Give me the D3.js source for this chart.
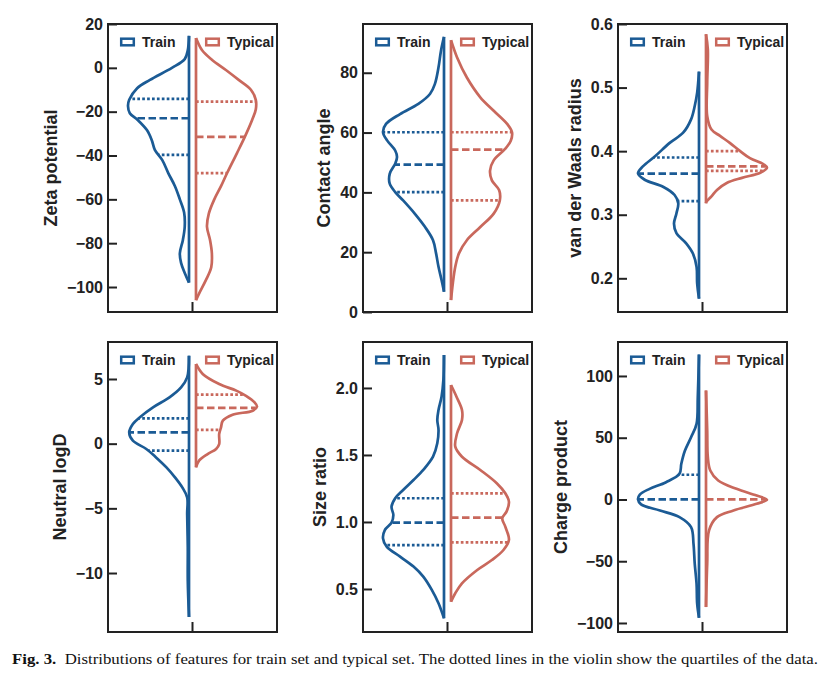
<!DOCTYPE html>
<html>
<head>
<meta charset="utf-8">
<script src="https://cdn.jsdelivr.net/npm/d3@7/dist/d3.min.js"></script>
<style>
  body { margin: 0; background: #fff; }
  svg text { font-family: "Liberation Sans", Arial, sans-serif; }
</style>
</head>
<body>
<script>
// ---- data: value along the axis + relative density (1 = widest) ----
const zetaTicks = [20, 0, -20, -40, -60, -80, -100];
const zetaTrainY = [14.6, 8, 4, 0, -5.5, -9.3, -14.6, -17.4, -20.7, -23.8, -28.4, -33, -37.4, -42, -48, -54, -60, -66, -72.5, -78.5, -84.6, -89, -93.6, -98];
const zetaTrainDens = [0, 0.02, 0.07, 0.28, 0.64, 0.85, 0.98, 1.0, 0.97, 0.84, 0.69, 0.61, 0.56, 0.44, 0.34, 0.23, 0.15, 0.08, 0.07, 0.10, 0.15, 0.13, 0.07, 0];
const zetaTrainQ = [-39.7, -23, -14.2];
const zetaTypicalY = [13.6, 8, 3.7, -1, -5.5, -10, -14.6, -19, -23.8, -31.5, -39, -48, -54, -60, -66.5, -72.5, -78.5, -84.6, -91, -97, -103, -106];
const zetaTypicalDens = [0, 0.10, 0.26, 0.49, 0.70, 0.90, 0.98, 0.98, 0.92, 0.80, 0.67, 0.51, 0.41, 0.30, 0.21, 0.18, 0.23, 0.26, 0.25, 0.16, 0.05, 0];
const zetaTypicalQ = [-48, -31.5, -15.4];

const contactTicks = [0, 20, 40, 60, 80];
const contactTrainY = [92, 87.3, 81.8, 76.2, 72.9, 69.6, 66.2, 62.9, 60.1, 57.3, 54, 51.8, 49.6, 46.2, 42.9, 40.1, 37.3, 32.9, 28.4, 24, 19.6, 15.1, 10.7, 6.8];
const contactTrainDens = [0, 0.05, 0.09, 0.15, 0.23, 0.42, 0.72, 0.95, 1.0, 0.93, 0.80, 0.77, 0.80, 0.89, 0.89, 0.80, 0.67, 0.48, 0.31, 0.18, 0.13, 0.09, 0.04, 0];
const contactTrainQ = [40.1, 49.3, 60.1];
const contactTypicalY = [90.9, 85.1, 78.4, 71.8, 67.3, 62.9, 60.1, 57.3, 54.6, 50.7, 47.3, 44, 40.7, 37.3, 32.9, 28.4, 24, 19.6, 15.1, 9.6, 4];
const contactTypicalDens = [0, 0.10, 0.26, 0.48, 0.70, 0.92, 1.0, 0.98, 0.89, 0.70, 0.64, 0.67, 0.79, 0.80, 0.70, 0.48, 0.26, 0.13, 0.07, 0.03, 0];
const contactTypicalQ = [37.3, 54.3, 60.1];

const vdwTicks = [0.2, 0.3, 0.4, 0.5, 0.6];
const vdwTrainY = [0.525, 0.492, 0.471, 0.45, 0.429, 0.413, 0.392, 0.376, 0.365, 0.355, 0.344, 0.331, 0.318, 0.302, 0.286, 0.271, 0.255, 0.239, 0.218, 0.192, 0.168];
const vdwTrainDens = [0, 0.03, 0.07, 0.13, 0.26, 0.48, 0.72, 0.92, 1.0, 0.89, 0.59, 0.40, 0.34, 0.37, 0.41, 0.37, 0.21, 0.10, 0.04, 0.03, 0];
const vdwTrainQ = [0.3215, 0.3646, 0.390];
const vdwTypicalY = [0.584, 0.56, 0.508, 0.455, 0.434, 0.424, 0.413, 0.400, 0.389, 0.379, 0.374, 0.366, 0.358, 0.350, 0.339, 0.329, 0.321, 0.318];
const vdwTypicalDens = [0, 0.03, 0.02, 0.02, 0.09, 0.23, 0.39, 0.56, 0.72, 0.95, 1.0, 0.89, 0.59, 0.34, 0.18, 0.09, 0.01, 0];
const vdwTypicalQ = [0.369, 0.376, 0.400];

const logdTicks = [5, 0, -5, -10];
const logdTrainY = [6.8, 5.12, 4.35, 3.58, 2.81, 2.03, 1.52, 0.87, 0.23, -0.41, -1.06, -1.83, -2.6, -3.38, -4.15, -5.44, -8, -10.6, -13.4];
const logdTrainDens = [0, 0.03, 0.13, 0.32, 0.59, 0.81, 0.92, 0.98, 0.92, 0.70, 0.54, 0.37, 0.23, 0.11, 0.03, 0.03, 0.02, 0.02, 0];
const logdTrainQ = [-0.54, 0.87, 1.96];
const logdTypicalY = [6.16, 5.39, 4.61, 4.1, 3.7, 3.19, 2.86, 2.55, 2.24, 1.78, 1.26, 0.75, -0.03, -0.41, -0.8, -1.31, -1.83];
const logdTypicalDens = [0, 0.11, 0.38, 0.66, 0.82, 0.96, 1.0, 0.93, 0.60, 0.44, 0.41, 0.38, 0.38, 0.33, 0.19, 0.05, 0];
const logdTypicalQ = [1.06, 2.76, 3.79];

const sizeTicks = [0.5, 1.0, 1.5, 2.0];
const sizeTrainY = [2.246, 2.06, 1.935, 1.836, 1.761, 1.687, 1.587, 1.487, 1.388, 1.313, 1.239, 1.177, 1.114, 1.052, 0.995, 0.94, 0.878, 0.816, 0.741, 0.667, 0.592, 0.493, 0.393, 0.281];
const sizeTrainDens = [0, 0.01, 0.04, 0.09, 0.11, 0.09, 0.11, 0.18, 0.34, 0.50, 0.67, 0.80, 0.86, 0.83, 0.86, 0.97, 1.0, 0.94, 0.72, 0.50, 0.34, 0.20, 0.09, 0];
const sizeTrainQ = [0.828, 0.995, 1.177];
const sizeTypicalY = [2.022, 1.935, 1.836, 1.761, 1.662, 1.562, 1.487, 1.388, 1.289, 1.214, 1.151, 1.077, 1.028, 0.965, 0.866, 0.791, 0.716, 0.642, 0.542, 0.468, 0.405];
const sizeTypicalDens = [0, 0.09, 0.18, 0.18, 0.10, 0.07, 0.18, 0.48, 0.75, 0.89, 0.95, 0.91, 0.84, 0.89, 0.95, 0.86, 0.67, 0.43, 0.18, 0.07, 0];
const sizeTypicalQ = [0.848, 1.032, 1.214];

const chargeTicks = [100, 50, 0, -50, -100];
const chargeTrainY = [117.3, 82.8, 61.2, 50.4, 39.6, 28.9, 20.8, 14, 8.6, 4, 0, -4, -8.9, -14.3, -22.4, -35.9, -52, -68.2, -84.4, -95.7];
const chargeTrainDens = [0, 0.02, 0.04, 0.13, 0.23, 0.29, 0.32, 0.54, 0.81, 0.97, 1.0, 0.95, 0.64, 0.32, 0.13, 0.09, 0.07, 0.04, 0.03, 0];
const chargeTrainQ = [0, 0, 20];
const chargeTypicalY = [88.2, 55.8, 34.2, 23.5, 15.4, 8.6, 3.2, -0.3, -3.5, -8.9, -14.3, -25, -52, -87.1];
const chargeTypicalDens = [0, 0.02, 0.03, 0.07, 0.20, 0.50, 0.83, 1.0, 0.83, 0.45, 0.18, 0.05, 0.02, 0];
const chargeTypicalQ = [0, 0, 0];

const legendNames = ["Train", "Typical"];
const caption = "Distributions of features for train set and typical set. The dotted lines in the violin show the quartiles of the data.";

// ---- layout ----
const width = 838, height = 681;
const blue = "#1b5b95", red = "#c9685c";
const pw = 169;
const colX = [108, 363, 618];
const rowY = [[24, 312], [342, 632]];
const gap = 3.5;
const lw = 2.7;

const panels = [
  {label: "Zeta potential", col: 0, row: 0, domain: [-111.4, 20], ticks: zetaTicks, fmt: d3.format("d"),
   train: [zetaTrainY, zetaTrainDens, zetaTrainQ], typical: [zetaTypicalY, zetaTypicalDens, zetaTypicalQ]},
  {label: "Contact angle", col: 1, row: 0, domain: [0, 96.3], ticks: contactTicks, fmt: d3.format("d"),
   train: [contactTrainY, contactTrainDens, contactTrainQ], typical: [contactTypicalY, contactTypicalDens, contactTypicalQ]},
  {label: "van der Waals radius", col: 2, row: 0, domain: [0.147, 0.6], ticks: vdwTicks, fmt: d3.format(".1f"),
   train: [vdwTrainY, vdwTrainDens, vdwTrainQ], typical: [vdwTypicalY, vdwTypicalDens, vdwTypicalQ]},
  {label: "Neutral logD", col: 0, row: 1, domain: [-14.56, 7.86], ticks: logdTicks, fmt: d3.format("d"),
   train: [logdTrainY, logdTrainDens, logdTrainQ], typical: [logdTypicalY, logdTypicalDens, logdTypicalQ]},
  {label: "Size ratio", col: 1, row: 1, domain: [0.179, 2.343], ticks: sizeTicks, fmt: d3.format(".1f"),
   train: [sizeTrainY, sizeTrainDens, sizeTrainQ], typical: [sizeTypicalY, sizeTypicalDens, sizeTypicalQ]},
  {label: "Charge product", col: 2, row: 1, domain: [-107.3, 127.5], ticks: chargeTicks, fmt: d3.format("d"),
   train: [chargeTrainY, chargeTrainDens, chargeTrainQ], typical: [chargeTypicalY, chargeTypicalDens, chargeTypicalQ]}
];

const svg = d3.select("body").append("svg")
  .attr("width", width).attr("height", height)
  .attr("viewBox", [0, 0, width, height]);

const w = d3.scaleLinear().domain([0, 1]).range([0, 61]);
const line = d3.line().curve(d3.curveCatmullRom.alpha(0.5));

function densAt(ys, ds, v) {
  for (let i = 0; i < ys.length - 1; i++) {
    if (ys[i] >= v && ys[i + 1] <= v) {
      const t = (ys[i] - v) / (ys[i] - ys[i + 1] || 1);
      return ds[i] + t * (ds[i + 1] - ds[i]);
    }
  }
  return 0;
}

function half(g, y, cx, series, side, color) {
  const [ys, ds, qs] = series;
  const base = cx + side * gap;
  const pts = ys.map((v, i) => [base + side * w(ds[i]), y(v)]);
  g.append("path").attr("d", line(pts))
    .attr("fill", "none").attr("stroke", color).attr("stroke-width", lw)
    .attr("stroke-linejoin", "round");
  g.append("line")
    .attr("x1", base).attr("x2", base)
    .attr("y1", y(ys[0])).attr("y2", y(ys[ys.length - 1]))
    .attr("stroke", color).attr("stroke-width", lw);
  qs.forEach((q, i) => {
    if (i !== 1 && q === qs[1]) return; // hidden under the median line
    g.append("line")
      .attr("x1", base).attr("x2", base + side * w(densAt(ys, ds, q)))
      .attr("y1", y(q)).attr("y2", y(q))
      .attr("stroke", color).attr("stroke-width", lw)
      .attr("stroke-dasharray", i === 1 ? "7.5,3.5" : "2.7,2.2");
  });
}

panels.forEach(p => {
  const x0 = colX[p.col], [top, bottom] = rowY[p.row];
  const cx = x0 + pw / 2;
  const y = d3.scaleLinear().domain(p.domain).range([bottom, top]);
  const g = svg.append("g");

  half(g, y, cx, p.train, -1, blue);
  half(g, y, cx, p.typical, 1, red);

  // frame
  g.append("rect").attr("x", x0).attr("y", top).attr("width", pw).attr("height", bottom - top)
    .attr("fill", "none").attr("stroke", "#222").attr("stroke-width", 2);
  // center x tick
  g.append("line").attr("x1", cx).attr("x2", cx).attr("y1", bottom).attr("y2", bottom - 10)
    .attr("stroke", "#222").attr("stroke-width", 2);

  const ax = g.append("g").attr("transform", `translate(${x0},0)`)
    .call(d3.axisLeft(y).tickValues(p.ticks).tickFormat(p.fmt).tickSize(-9).tickPadding(5));
  ax.select(".domain").remove();
  ax.selectAll(".tick line").attr("stroke", "#222").attr("stroke-width", 2);
  ax.selectAll(".tick text").attr("fill", "#222")
    .style("font-size", "16px").style("font-weight", "bold")
    .style("font-family", '"Liberation Sans", Arial, sans-serif');
  let maxW = 0;
  ax.selectAll(".tick text").each(function () { maxW = Math.max(maxW, this.getComputedTextLength()); });

  g.append("text")
    .attr("transform", `translate(${x0 - 5 - maxW - 10},${(top + bottom) / 2}) rotate(-90)`)
    .attr("text-anchor", "middle")
    .attr("fill", "#222").style("font-size", "18px").style("font-weight", "bold")
    .text(p.label);

  // legend
  const ly = top + 18;
  [blue, red].forEach((c, i) => {
    const lx = x0 + 12 + i * 85;
    g.append("rect").attr("x", lx + 1.2).attr("y", ly - 3.3).attr("width", 12.6).attr("height", 6.6)
      .attr("fill", "#fff").attr("stroke", c).attr("stroke-width", 2.5);
    g.append("text").attr("x", lx + 22).attr("y", ly + 5)
      .attr("fill", "#222").style("font-size", "14px").style("font-weight", "bold")
      .text(legendNames[i]);
  });
});

// caption
const cap = svg.append("text").attr("x", 12).attr("y", 664)
  .attr("textLength", 806).attr("lengthAdjust", "spacingAndGlyphs")
  .style("font-family", '"Liberation Serif", "Times New Roman", serif').style("font-size", "14.5px")
  .attr("fill", "#111");
cap.append("tspan").style("font-weight", "bold").text("Fig. 3.");
cap.append("tspan").text("\u00a0 " + caption);
</script>
</body>
</html>
